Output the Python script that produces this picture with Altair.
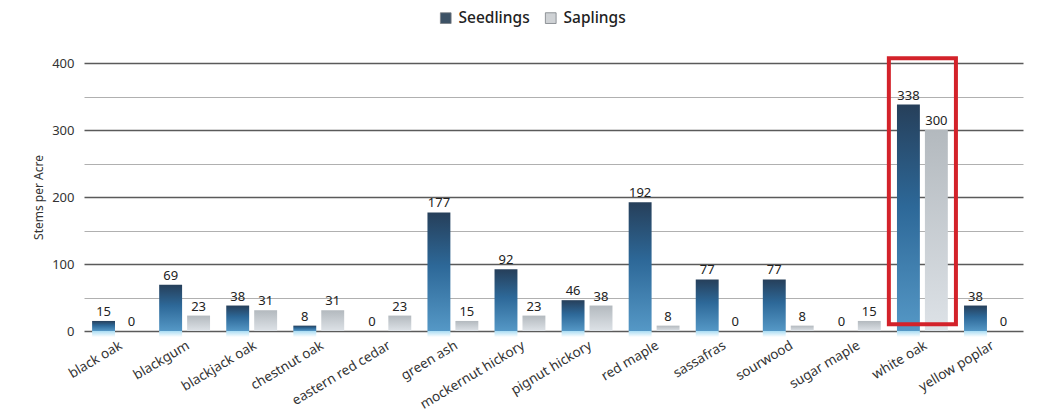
import altair as alt
import pandas as pd

# Stems per acre by species, seedlings vs saplings
species = [
    "black oak", "blackgum", "blackjack oak", "chestnut oak", "eastern red cedar",
    "green ash", "mockernut hickory", "pignut hickory", "red maple", "sassafras",
    "sourwood", "sugar maple", "white oak", "yellow poplar",
]
seedlings = [15, 69, 38, 8, 0, 177, 92, 46, 192, 77, 77, 0, 338, 38]
saplings = [0, 23, 31, 31, 23, 15, 23, 38, 8, 0, 8, 15, 300, 0]
series = ["Seedlings", "Saplings"]
legend_colors = ["#3d5266", "#cfd2d5"]

# highlighted species and the vertical extent of its outline box
highlight = ["white oak"]
highlight_lo = [10]
highlight_hi = [407]

rows = []
for sp, se, sa in zip(species, seedlings, saplings):
    rows.append({"species": sp, "series": "Seedlings", "value": se})
    rows.append({"species": sp, "series": "Saplings", "value": sa})
df = pd.DataFrame(rows)
box_df = pd.DataFrame({"species": highlight, "lo": highlight_lo, "hi": highlight_hi})

FONT = "Noto Sans"

seed_grad = alt.Gradient(
    gradient="linear", x1=0, x2=0, y1=0, y2=1,
    stops=[
        alt.GradientStop(color="#263f5a", offset=0),
        alt.GradientStop(color="#2d6898", offset=0.45),
        alt.GradientStop(color="#5598c6", offset=1),
    ],
)
sap_grad = alt.Gradient(
    gradient="linear", x1=0, x2=0, y1=0, y2=1,
    stops=[
        alt.GradientStop(color="#b3b9be", offset=0),
        alt.GradientStop(color="#dde2e7", offset=1),
    ],
)
glow_grad = alt.Gradient(
    gradient="linear", x1=0, x2=0, y1=0, y2=1,
    stops=[
        alt.GradientStop(color="#a9dcf3", offset=0),
        alt.GradientStop(color="#ffffff", offset=1),
    ],
)

x_enc = alt.X(
    "species:N", sort=species,
    scale=alt.Scale(domain=species, paddingInner=0, paddingOuter=0),
    axis=alt.Axis(
        title=None, labelAngle=-31, labelAlign="right", labelBaseline="top",
        ticks=False, domain=False, labelFontSize=13.5, labelPadding=7,
        labelColor="#333333", labelFont=FONT,
    ),
)
xo_enc = alt.XOffset(
    "series:N", sort=series,
    scale=alt.Scale(domain=series, paddingInner=0.18, paddingOuter=0.29),
)

y_axis = alt.Axis(
    title="Stems per Acre", titleFont=FONT, titleFontSize=12, titleFontWeight="normal",
    titleColor="#333333", titlePadding=6,
    values=[0, 50, 100, 150, 200, 250, 300, 350, 400],
    labelExpr="datum.value % 100 === 0 ? datum.label : ''",
    labelFont=FONT, labelFontSize=13, labelColor="#333333", labelPadding=10,
    ticks=False, domain=False, grid=True,
    gridColor={"condition": {"test": "datum.value % 100 === 0", "value": "#5a5a5a"}, "value": "#b0b0b0"},
    gridWidth={"condition": {"test": "datum.value % 100 === 0", "value": 1.6}, "value": 1},
)
y_scale = alt.Scale(domain=[0, 400], nice=False)


def y_field(field):
    return alt.Y(f"{field}:Q", scale=y_scale, axis=y_axis)


base = alt.Chart(df)

# soft reflection just below the baseline under each seedling bar
glow = base.transform_filter(
    (alt.datum.series == "Seedlings") & (alt.datum.value > 0)
).transform_calculate(lo="0", hi="-9").mark_bar(
    color=glow_grad, clip=False
).encode(x=x_enc, xOffset=xo_enc, y=y_field("lo"), y2="hi:Q")

seed_bars = base.transform_filter(alt.datum.series == "Seedlings").mark_bar(
    color=seed_grad
).encode(x=x_enc, xOffset=xo_enc, y=y_field("value"))

sap_bars = base.transform_filter(alt.datum.series == "Saplings").mark_bar(
    color=sap_grad
).encode(x=x_enc, xOffset=xo_enc, y=y_field("value"))

labels = base.mark_text(
    baseline="bottom", dy=-2, fontSize=13, font=FONT, color="#222222"
).encode(x=x_enc, xOffset=xo_enc, y=y_field("value"), text=alt.Text("value:Q"))

# legend carrier: no rows drawn, only the colour scale
legend_layer = base.transform_filter("false").mark_bar().encode(
    x=x_enc, y=y_field("value"),
    color=alt.Color(
        "series:N",
        scale=alt.Scale(domain=series, range=legend_colors),
        legend=alt.Legend(
            title=None, orient="none", direction="horizontal",
            legendX=354, legendY=-53, symbolType="square", symbolSize=115,
            symbolStrokeColor="#7a7f84", symbolStrokeWidth=0.8,
            labelFont=FONT, labelFontSize=15.5, labelFontWeight=500,
            labelColor="#222222", columnPadding=13, symbolOffset=0, labelOffset=5,
        ),
    ),
)

box = alt.Chart(box_df).mark_rect(
    fill=None, stroke="#d3222a", strokeWidth=4, clip=False
).encode(x=x_enc, y=y_field("lo"), y2="hi:Q")

chart = alt.layer(glow, seed_bars, sap_bars, labels, box, legend_layer).properties(
    width=939, height=268,
    autosize=alt.AutoSizeParams(type="none"),
    padding={"left": 84, "top": 63, "right": 16, "bottom": 83},
    background="white",
).configure_view(stroke=None)

chart.save("out.html", embed_options={"renderer": "svg", "actions": False})
